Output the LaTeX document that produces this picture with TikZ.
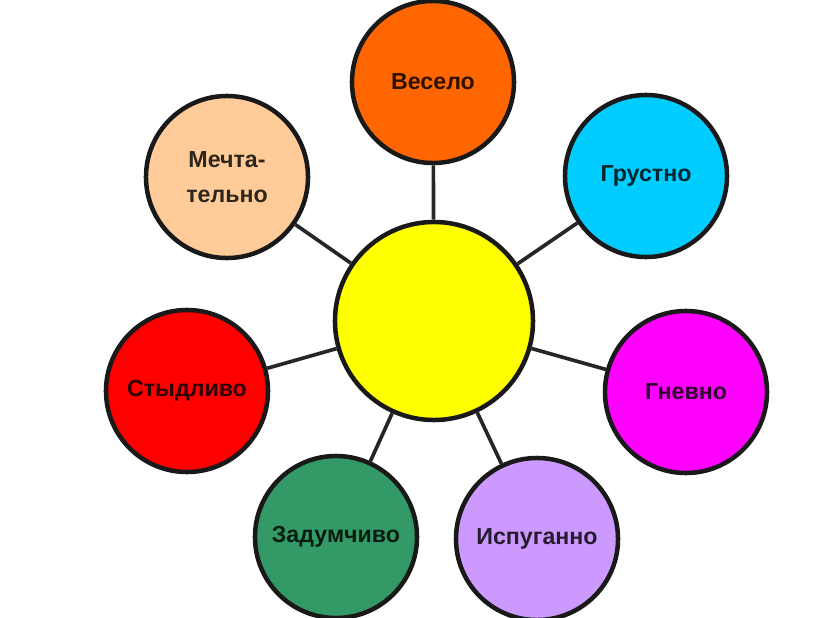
\documentclass[tikz,border=0pt]{standalone}
\usepackage{fontspec}
\setmainfont{Liberation Sans}
\definecolor{joy}{HTML}{FF6600}
\definecolor{sad}{HTML}{00CCFF}
\definecolor{anger}{HTML}{FF00FF}
\definecolor{fear}{HTML}{CC99FF}
\definecolor{muse}{HTML}{339966}
\definecolor{shame}{HTML}{FF0000}
\definecolor{dream}{HTML}{FFCC99}
\definecolor{core}{HTML}{FFFF00}

\begin{document}
\begin{tikzpicture}[
    x=0.025cm, y=-0.025cm,
    mood/.style={
        circle, draw=black!90, line width=3.2pt,
        minimum size=4.05cm, inner sep=0pt, align=center,
        font=\bfseries\fontsize{16.5}{25}\selectfont,
        fill=#1, text=#1!18!black,
      },
    hub/.style={
        circle, draw=black!90, line width=3.2pt,
        minimum size=4.95cm, fill=core,
      },
    link/.style={
        black!85, line width=2.6pt,
      }
  ]
  \fill[white] (0,0) rectangle (824,618);
  \useasboundingbox (0,0) rectangle (824,618);

  \node[hub] (c) at (434,321) {};
  \node[mood=joy] (joy) at (433,82) {Весело};
  \node[mood=sad] (sad) at (646,176) {Грустно};
  \node[mood=anger] (anger) at (686,392) {Гневно};
  \node[mood=fear] (fear) at (537,539) {Испуганно};
  \node[mood=muse] (muse) at (336,537) {Задумчиво};
  \node[mood=shame] (shame) at (187,391) {Стыдливо};
  \node[mood=dream] (dream) at (227,177) {Мечта-\\тельно};

  \foreach \m in {joy,sad,anger,fear,muse,shame,dream}{
      \draw[link] (c) -- (\m);
    }
\end{tikzpicture}
\end{document}
